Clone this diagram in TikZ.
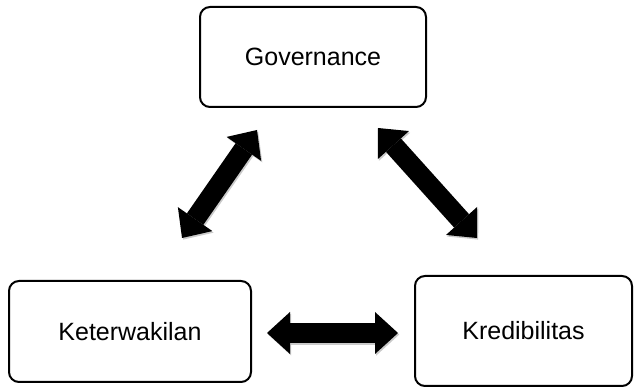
\documentclass[tikz,border=0pt]{standalone}
\usepackage{fontspec}
\setmainfont{Liberation Sans}
\usetikzlibrary{arrows.meta}
\begin{document}
\begin{tikzpicture}[x=1pt,y=1pt,
  box/.style={draw=black, line width=2pt, rounded corners=10pt, fill=white,
    align=center, inner sep=0pt, font=\fontsize{25}{30}\selectfont},
  tip/.style={Triangle[width=42pt,length=23pt,line width=0pt]},
  blockarrow/.style={line width=20pt, {Triangle[width=42pt,length=23pt,line width=0pt]}-{Triangle[width=42pt,length=23pt,line width=0pt]}},
  arrowshadow/.style={blockarrow, draw=black!35, opacity=0.6, transform canvas={shift={(1.2pt,-1.6pt)}}},
  ]
\useasboundingbox (0,0) rectangle (635,388);

% the three boxes
\node[box, minimum width=226pt, minimum height=100pt] (gov) at (313,331) {Governance};
\node[box, minimum width=242pt, minimum height=101pt] (ket) at (130,56.5) {Keterwakilan};
\node[box, minimum width=217pt, minimum height=110pt] (kred) at (523.5,57) {Kredibilitas};

% ends of the block arrows
\coordinate (h1) at (267,55);
\coordinate (h2) at (398,55);
\coordinate (l1) at (182,150);
\coordinate (l2) at (257,258);
\coordinate (r1) at (378,260);
\coordinate (r2) at (477,150);

% soft shadows under the arrows
\draw[arrowshadow] (h1) -- (h2);
\draw[arrowshadow] (l1) -- (l2);
\draw[arrowshadow] (r1) -- (r2);

% double-headed block arrows
\draw[blockarrow] (h1) -- (h2);
\draw[blockarrow] (l1) -- (l2);
\draw[blockarrow] (r1) -- (r2);
\end{tikzpicture}
\end{document}
